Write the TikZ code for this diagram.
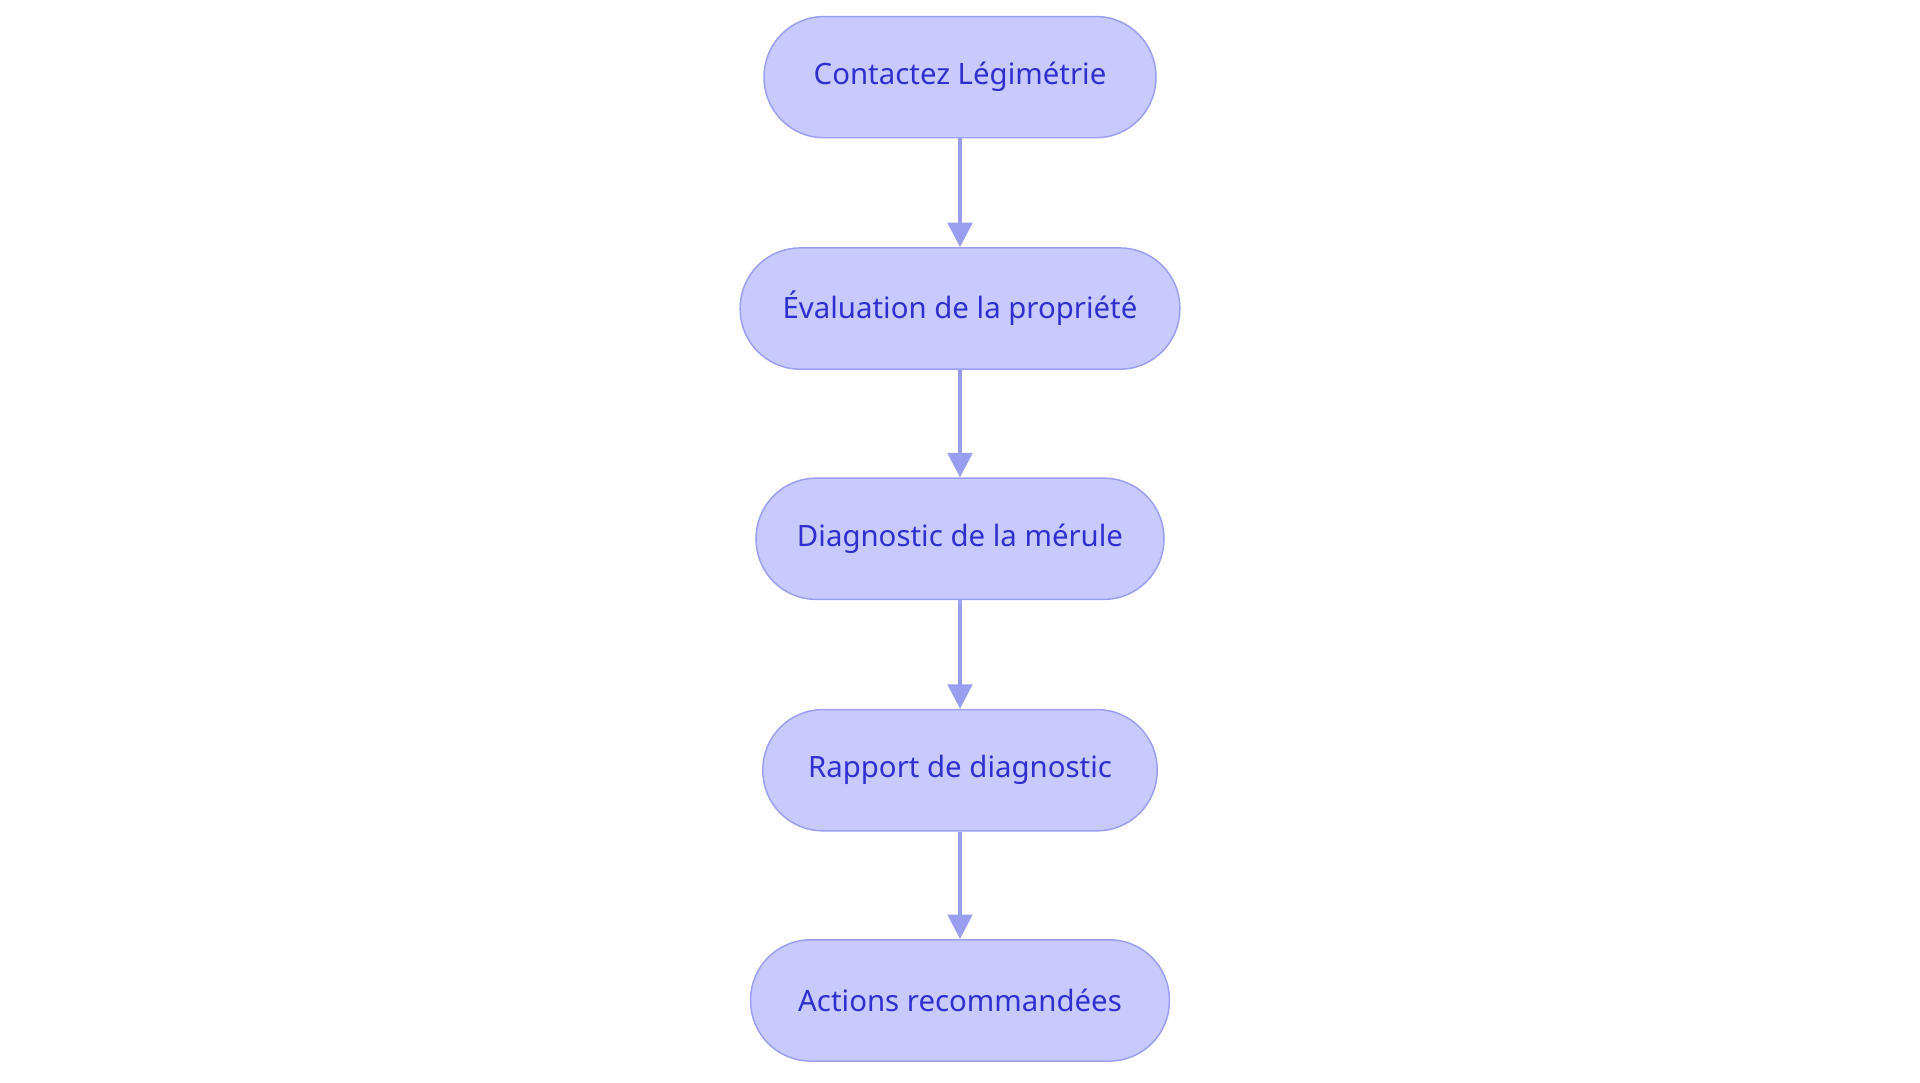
\documentclass[tikz,border=0pt]{standalone}
\usepackage{fontspec}
\setmainfont{Noto Sans}
\usetikzlibrary{arrows.meta}
\definecolor{nfill}{HTML}{C8CAFD}
\definecolor{nline}{HTML}{9A9EF0}
\definecolor{ntext}{HTML}{2F2FCF}
\begin{document}
\begin{tikzpicture}[x=1pt,y=1pt,
  box/.style={draw=nline,fill=nfill,line width=1.2pt,rounded corners=49pt,minimum height=99pt,text=ntext,font=\fontsize{24}{28}\selectfont,inner sep=0pt},
  arr/.style={draw=nline,line width=3pt,-{Triangle[length=20pt,width=20pt]}}]
\useasboundingbox (0,0) rectangle (1568,884);
\node[box,minimum width=320pt] (a) at (784,821) {Contactez Légimétrie};
\node[box,minimum width=359pt] (b) at (784,632) {Évaluation de la propriété};
\node[box,minimum width=333pt] (c) at (784,444) {Diagnostic de la mérule};
\node[box,minimum width=322pt] (d) at (784,255) {Rapport de diagnostic};
\node[box,minimum width=342pt] (e) at (784,67) {Actions recommandées};
\draw[arr] (a) -- (b);
\draw[arr] (b) -- (c);
\draw[arr] (c) -- (d);
\draw[arr] (d) -- (e);
\end{tikzpicture}
\end{document}
